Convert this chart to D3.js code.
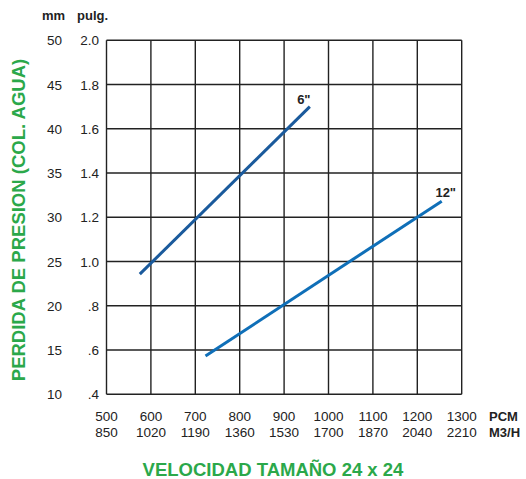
<!DOCTYPE html>
<html><head><meta charset="utf-8">
<script src="https://cdn.jsdelivr.net/npm/d3@7"></script>
<style>body{margin:0;background:#fff;} text{font-family:"Liberation Sans",Arial,sans-serif;}</style>
</head><body>
<svg id="c" width="526" height="479"></svg>
<script>
const pcmTicks = [500,600,700,800,900,1000,1100,1200,1300];
const m3hLabels = ["850","1020","1190","1360","1530","1700","1870","2040","2210"];
const pulgTicks = [0.4,0.6,0.8,1.0,1.2,1.4,1.6,1.8,2.0];
const pulgLabels = [".4",".6",".8","1.0","1.2","1.4","1.6","1.8","2.0"];
const mmLabels = ["10","15","20","25","30","35","40","45","50"];
const seriesNames = ['6"','12"'];
const series6 = [[575,0.943],[958,1.70]];
const series12 = [[723,0.573],[1255,1.273]];
const colors = ["#1a5a9c","#0f6fb8"];

const svg = d3.select("#c");
const L=106.5,R=461.7,T=40.3,B=394.3;
const x = d3.scaleLinear().domain([500,1300]).range([L,R]);
const y = d3.scaleLinear().domain([0.4,2.0]).range([B,T]);

// grid
const g = svg.append("g");
g.selectAll("line.v").data(pcmTicks).join("line")
  .attr("x1",d=>x(d)).attr("x2",d=>x(d)).attr("y1",T).attr("y2",B)
  .attr("stroke","#222").attr("stroke-width",1.4);
g.selectAll("line.h").data(pulgTicks).join("line").attr("class","h")
  .attr("x1",L).attr("x2",R).attr("y1",d=>y(d)).attr("y2",d=>y(d))
  .attr("stroke","#222").attr("stroke-width",1.4);

// y labels
svg.selectAll("text.pulg").data(pulgTicks).join("text").attr("class","pulg")
  .attr("x",99).attr("y",d=>y(d)+5).attr("text-anchor","end")
  .attr("font-size",13.5).attr("fill","#222").text((d,i)=>pulgLabels[i]);
svg.selectAll("text.mm").data(pulgTicks).join("text").attr("class","mm")
  .attr("x",62).attr("y",d=>y(d)+5).attr("text-anchor","end")
  .attr("font-size",13.5).attr("fill","#222").text((d,i)=>mmLabels[i]);
svg.append("text").attr("x",42).attr("y",20).attr("font-size",13).attr("font-weight","bold").attr("fill","#222").text("mm");
svg.append("text").attr("x",77).attr("y",20).attr("font-size",13).attr("font-weight","bold").attr("fill","#222").text("pulg.");

// x labels
svg.selectAll("text.pcm").data(pcmTicks).join("text").attr("class","pcm")
  .attr("x",d=>x(d)).attr("y",421).attr("text-anchor","middle")
  .attr("font-size",13.5).attr("fill","#222").text(d=>d);
svg.selectAll("text.m3").data(pcmTicks).join("text").attr("class","m3")
  .attr("x",d=>x(d)).attr("y",437).attr("text-anchor","middle")
  .attr("font-size",13.5).attr("fill","#222").text((d,i)=>m3hLabels[i]);
svg.append("text").attr("x",489).attr("y",421).attr("font-size",13).attr("font-weight","bold").attr("fill","#222").text("PCM");
svg.append("text").attr("x",489).attr("y",437).attr("font-size",13).attr("font-weight","bold").attr("fill","#222").text("M3/H");

// lines
const line = d3.line().x(d=>x(d[0])).y(d=>y(d[1]));
[series6,series12].forEach((s,i)=>{
  svg.append("path").attr("d",line(s)).attr("fill","none")
    .attr("stroke",colors[i]).attr("stroke-width",3);
});
svg.append("text").attr("x",x(series6[1][0])-6).attr("y",y(series6[1][1])-3).attr("text-anchor","middle")
  .attr("font-size",13).attr("font-weight","bold").attr("fill","#222").text(seriesNames[0]);
svg.append("text").attr("x",x(series12[1][0])+4).attr("y",y(series12[1][1])-4).attr("text-anchor","middle")
  .attr("font-size",13).attr("font-weight","bold").attr("fill","#222").text(seriesNames[1]);

// titles
svg.append("text").attr("transform","translate(24.5,220) rotate(-90)").attr("text-anchor","middle")
  .attr("font-size",18.5).attr("font-weight","bold").attr("fill","#2ba84a").text("PERDIDA DE PRESION (COL. AGUA)");
svg.append("text").attr("x",273).attr("y",476).attr("text-anchor","middle")
  .attr("font-size",18.5).attr("font-weight","bold").attr("fill","#2ba84a").text("VELOCIDAD TAMAÑO 24 x 24");
</script>
</body></html>
